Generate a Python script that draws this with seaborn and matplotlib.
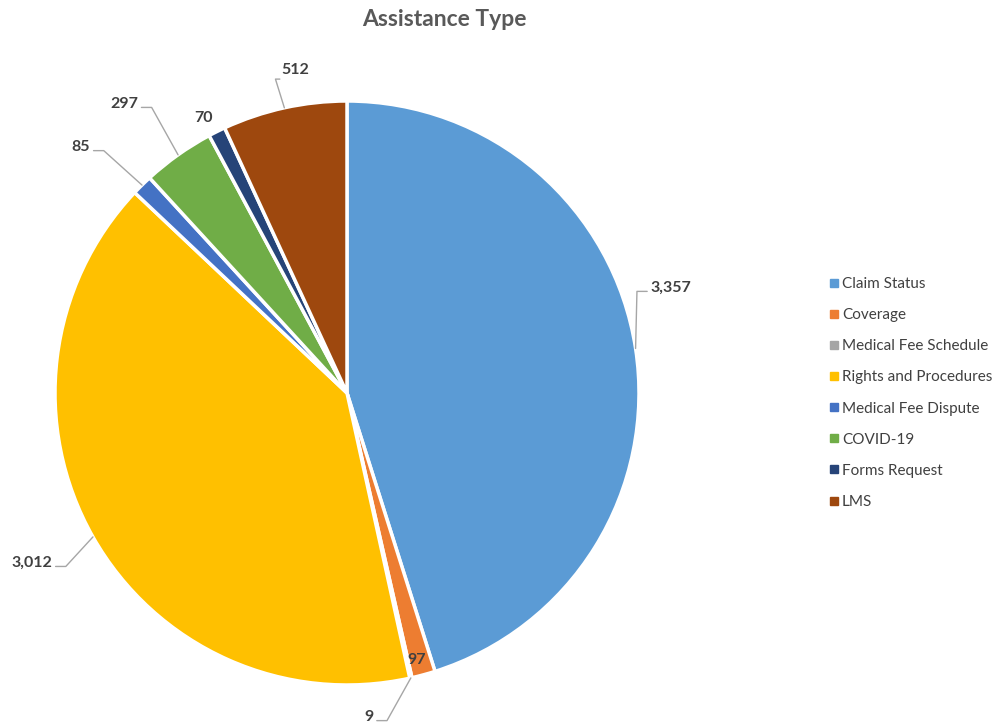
import numpy as np
import matplotlib
matplotlib.use("Agg")
import matplotlib.pyplot as plt
from matplotlib.lines import Line2D
import seaborn as sns

categories = ["Claim Status", "Coverage", "Medical Fee Schedule", "Rights and Procedures",
              "Medical Fee Dispute", "COVID-19", "Forms Request", "LMS"]
values = [3357, 97, 9, 3012, 85, 297, 70, 512]
colors = ["#5B9BD5", "#ED7D31", "#A5A5A5", "#FFC000", "#4472C4", "#70AD47", "#264478", "#9E480E"]

# label anchor positions (in pie-radius units), alignment and whether a leader line is drawn
label_pos = [(1.04, 0.36), (0.24, -0.915), (0.09, -1.11), (-1.01, -0.582),
             (-0.88, 0.842), (-0.716, 0.99), (-0.49, 0.942), (-0.225, 1.105)]
label_ha = ["left", "center", "right", "right", "right", "right", "center", "left"]
label_line = [True, False, True, True, True, True, False, True]

sns.set_theme(style="white")
plt.rcParams["font.family"] = ["Lato", "DejaVu Sans"]

W, H = 998, 727
fig = plt.figure(figsize=(W / 100, H / 100), dpi=100)
cx, cy, R, k = 347, 393, 292, 1.2
aw, ah = 2 * R * k, 2 * R * k
ax = fig.add_axes([(cx - aw / 2) / W, (H - cy - ah / 2) / H, aw / W, ah / H])

wedges, _ = ax.pie(values, colors=colors, startangle=90, counterclock=False, radius=1.0,
                   wedgeprops=dict(edgecolor="white", linewidth=2.5))
ax.set_xlim(-k, k)
ax.set_ylim(-k, k)
ax.set_aspect("equal")
ax.axis("off")

total = float(sum(values))
cum = np.cumsum([0] + values[:-1])
text_color = "#404040"
line_color = "#A6A6A6"
for i, v in enumerate(values):
    mid = cum[i] + v / 2.0
    theta = np.deg2rad(90 - mid / total * 360)
    px, py = np.cos(theta), np.sin(theta)
    lx, ly = label_pos[i]
    ax.text(lx, ly, f"{v:,}", ha=label_ha[i], va="center", fontsize=11.5,
            fontweight="bold", color=text_color, clip_on=False, zorder=5)
    if label_line[i]:
        if i == 7:
            ax.plot([px, lx - 0.02, lx - 0.005], [py, ly - 0.03, ly - 0.03],
                    color=line_color, lw=1, zorder=4, clip_on=False)
            continue
        if label_ha[i] == "left":
            ex = lx - 0.012
            elbow = ex - 0.035
        else:
            ex = lx + 0.012
            elbow = ex + 0.035
        ax.plot([px, elbow, ex], [py, ly - 0.012, ly - 0.012], color=line_color, lw=1,
                zorder=4, clip_on=False)

handles = [Line2D([0], [0], marker="s", linestyle="none", markersize=6,
                  markerfacecolor=c, markeredgecolor=c) for c in colors]
leg = fig.legend(handles, categories, loc="center left", bbox_to_anchor=(829 / W, (H - 393) / H),
                 frameon=False, fontsize=11, labelspacing=1.12, handlelength=0.6, handletextpad=0.25,
                 borderaxespad=0, borderpad=0)
for t in leg.get_texts():
    t.set_color(text_color)

fig.text(444 / W, 1 - 19 / H, "Assistance Type", ha="center", va="center", fontsize=16.5,
         fontweight="bold", color="#595959")

fig.savefig("out.png", dpi=100, facecolor="white")
